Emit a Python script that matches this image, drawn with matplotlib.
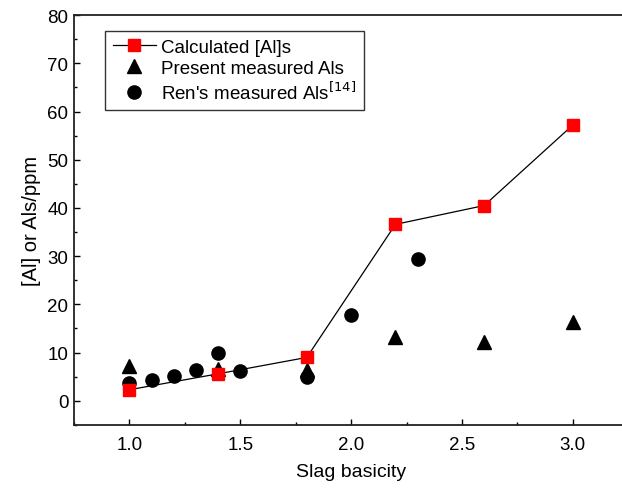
import matplotlib
matplotlib.use("Agg")
import matplotlib.pyplot as plt
from matplotlib.ticker import MultipleLocator

plt.rcParams['font.family'] = ['Liberation Sans', 'DejaVu Sans']

# calculated [Al]s
calc_x = [1.0, 1.4, 1.8, 2.2, 2.6, 3.0]
calc_y = [2.3, 5.6, 9.0, 36.6, 40.5, 57.2]

# present measured Als
pres_x = [1.0, 1.4, 1.8, 2.2, 2.6, 3.0]
pres_y = [7.2, 6.5, 6.3, 13.3, 12.3, 16.3]

# Ren's measured Als
ren_x = [1.0, 1.1, 1.2, 1.3, 1.4, 1.5, 1.8, 2.0, 2.3]
ren_y = [3.7, 4.4, 5.2, 6.3, 10.0, 6.1, 5.0, 17.7, 29.5]

fig = plt.figure(figsize=(6.22, 4.89), dpi=100)
ax = fig.add_axes([0.119, 0.129, 0.891, 0.838])

ax.plot(pres_x, pres_y, linestyle='none', marker='^', color='black',
        markersize=10, label='Present measured Als', zorder=3)
ax.plot(ren_x, ren_y, linestyle='none', marker='o', color='black',
        markersize=9.5, label="Ren's measured Als$^{[14]}$", zorder=4)
ax.plot(calc_x, calc_y, color='black', linewidth=0.9, marker='s',
        markerfacecolor='red', markeredgecolor='red', markersize=9,
        label='Calculated [Al]s', zorder=5)

ax.set_xlim(0.75, 3.25)
ax.set_ylim(-5, 80)
ax.xaxis.set_major_locator(MultipleLocator(0.5))
ax.xaxis.set_minor_locator(MultipleLocator(0.25))
ax.yaxis.set_major_locator(MultipleLocator(10))
ax.yaxis.set_minor_locator(MultipleLocator(5))
ax.tick_params(which='major', length=4.5, width=1, labelsize=13.5, direction='in')
ax.tick_params(which='minor', length=2.5, width=1, direction='in')
ax.tick_params(axis='x', pad=8)
ax.tick_params(axis='y', pad=4)
for s in ['left', 'bottom', 'top']:
    ax.spines[s].set_linewidth(1.3)
    ax.spines[s].set_color('#222222')
ax.spines['right'].set_visible(False)

ax.set_xlabel('Slag basicity', fontsize=14, labelpad=7)
ax.set_ylabel('[Al] or Als/ppm', fontsize=14.5, labelpad=5)

handles, labels = ax.get_legend_handles_labels()
order = [2, 0, 1]
leg = ax.legend([handles[i] for i in order], [labels[i] for i in order],
                loc='upper left', bbox_to_anchor=(0.056, 0.961), borderaxespad=0,
                fontsize=13.5, frameon=True, fancybox=False, edgecolor='black',
                handlelength=2.3, borderpad=0.4, labelspacing=0.2,
                handletextpad=0.3)
leg.get_frame().set_linewidth(1.0)

fig.savefig('out.png', dpi=100)
